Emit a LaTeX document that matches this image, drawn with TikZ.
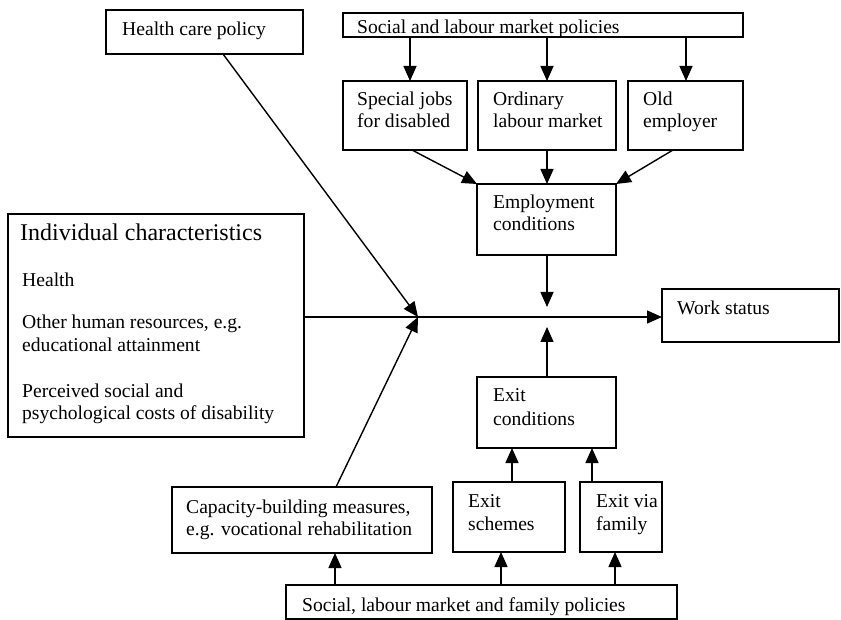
\documentclass[tikz,border=0pt]{standalone}
\usepackage{fontspec}
\setmainfont{Liberation Serif}
\usetikzlibrary{arrows.meta}
\begin{document}
\begin{tikzpicture}[x=1pt,y=-1pt,
  box/.style={draw, line width=1.4pt, inner sep=0pt, outer sep=0pt, anchor=north west},
  txt/.style={anchor=base west, inner sep=0pt, font=\fontsize{19.6}{22}\selectfont},
  bigtxt/.style={anchor=base west, inner sep=0pt, font=\fontsize{24}{27}\selectfont},
  arr/.style={line width=1.4pt, -{Triangle[length=15pt,width=13pt]}},
  ln/.style={line width=1.4pt}]
\useasboundingbox (0,0) rectangle (841,620);

% boxes
\node[box, minimum width=197pt, minimum height=44pt] (hcp) at (106,10) {};
\node[box, minimum width=400pt, minimum height=24pt] (slmp) at (343,13) {};
\node[box, minimum width=124pt, minimum height=69pt] (spj) at (343,81) {};
\node[box, minimum width=138pt, minimum height=69pt] (olm) at (478,81) {};
\node[box, minimum width=115pt, minimum height=69pt] (oe) at (628,81) {};
\node[box, minimum width=139pt, minimum height=71pt] (emp) at (477,184) {};
\node[box, minimum width=296pt, minimum height=223pt] (ind) at (8,214) {};
\node[box, minimum width=177pt, minimum height=53pt] (ws) at (662,289) {};
\node[box, minimum width=139pt, minimum height=71pt] (exc) at (477,377) {};
\node[box, minimum width=112pt, minimum height=70pt] (exs) at (453,482) {};
\node[box, minimum width=82pt, minimum height=70pt] (exf) at (580,482) {};
\node[box, minimum width=260pt, minimum height=66pt] (cap) at (172,487) {};
\node[box, minimum width=391pt, minimum height=34pt] (slfp) at (286,585) {};

% texts
\node[txt] (t1) at (122,36) {Health care policy};
\node[txt] (t2) at (357,34) {Social and labour market policies};
\node[txt] (t3a) at (357,106) {Special jobs};
\node[txt] (t3b) at (357,128) {for disabled};
\node[txt] (t4a) at (493,106) {Ordinary};
\node[txt] (t4b) at (493,128) {labour market};
\node[txt] (t5a) at (643,106) {Old};
\node[txt] (t5b) at (643,128) {employer};
\node[txt] (t6a) at (493,209) {Employment};
\node[txt] (t6b) at (493,231) {conditions};
\node[bigtxt] (t7) at (20,241) {Individual characteristics};
\node[txt] (t7a) at (22,287) {Health};
\node[txt] (t7b) at (22,329) {Other human resources, e.g.};
\node[txt] (t7c) at (22,352) {educational attainment};
\node[txt] (t7d) at (22,397) {Perceived social and};
\node[txt] (t7e) at (22,419) {psychological costs of disability};
\node[txt] (t8) at (677,315) {Work status};
\node[txt] (t9a) at (493,402) {Exit};
\node[txt] (t9b) at (493,425) {conditions};
\node[txt] (t10a) at (468,507) {Exit};
\node[txt] (t10b) at (468,530) {schemes};
\node[txt] (t11a) at (596,507) {Exit via};
\node[txt] (t11b) at (596,530) {family};
\node[txt] (t12a) at (186,513) {Capacity-building measures,};
\node[txt] (t12b) at (186,535) {e.g. vocational rehabilitation};
\node[txt] (t13) at (302,611) {Social, labour market and family policies};

% helper coordinates
\coordinate (J) at (418,317);
\coordinate (xa) at (410,0);
\coordinate (xb) at (547,0);
\coordinate (xc) at (686,0);
\coordinate (xd) at (412,0);
\coordinate (xe) at (673,0);
\coordinate (xh) at (223,0);
\coordinate (xk) at (336,0);
\coordinate (xm) at (512,0);
\coordinate (xn) at (592,0);
\coordinate (xp) at (335,0);
\coordinate (xq) at (501,0);
\coordinate (xr) at (615,0);
\coordinate (up) at (547,307);
\coordinate (lo) at (547,327);

% connectors
\draw[arr] (slmp.south -| xa) -- (spj.north -| xa);
\draw[arr] (slmp.south -| xb) -- (olm.north -| xb);
\draw[arr] (slmp.south -| xc) -- (oe.north -| xc);
\draw[arr] (spj.south -| xd) -- (emp.north west);
\draw[arr] (olm.south -| xb) -- (emp.north -| xb);
\draw[arr] (oe.south -| xe) -- (emp.north east);
\draw[arr] (emp.south -| xb) -- (up);
\draw[arr] (exc.north -| xb) -- (lo);
\draw[arr] (ind.east |- J) -- (ws.west |- J);
\draw[arr] (hcp.south -| xh) -- (J);
\draw[arr] (cap.north -| xk) -- (J);
\draw[arr] (exs.north -| xm) -- (exc.south -| xm);
\draw[arr] (exf.north -| xn) -- (exc.south -| xn);
\draw[arr] (slfp.north -| xp) -- (cap.south -| xp);
\draw[arr] (slfp.north -| xq) -- (exs.south -| xq);
\draw[arr] (slfp.north -| xr) -- (exf.south -| xr);
\end{tikzpicture}
\end{document}
